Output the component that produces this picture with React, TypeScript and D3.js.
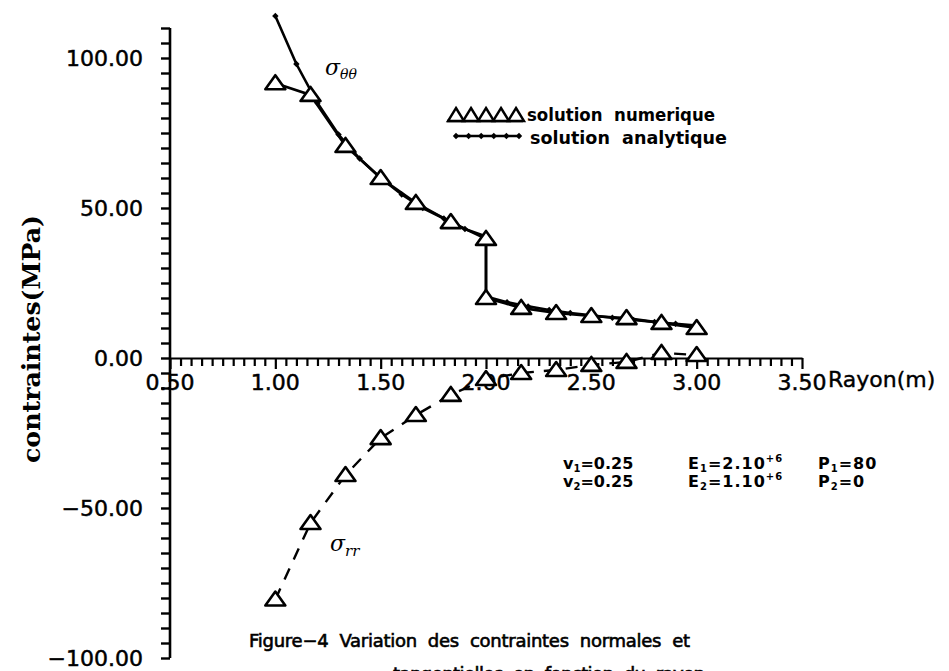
import React, { useEffect, useRef } from 'react';
import * as d3 from 'd3';

// sigma theta-theta, numerical solution (triangles), interface at r = 2.0
const rTheta = [1.0, 1.167, 1.333, 1.5, 1.667, 1.833, 2.0, 2.0, 2.167, 2.333, 2.5, 2.667, 2.833, 3.0];
const thetaNum = [91.6, 87.7, 70.7, 60.0, 51.7, 45.3, 39.7, 20.0, 16.7, 15.0, 14.0, 13.3, 11.7, 10.0];

// sigma theta-theta, analytical solution
const rAna = [1.0, 1.1, 1.2, 1.3, 1.4, 1.5, 1.6, 1.7, 1.8, 1.9, 2.0, 2.0, 2.1, 2.2, 2.3, 2.4, 2.5, 2.6, 2.7, 2.8, 2.9, 3.0];
const thetaAna = [114, 98, 85, 74.5, 66.5, 60, 54.5, 50, 46.5, 43, 40.5, 20.5, 18.6, 17.2, 16.0, 15.0, 14.2, 13.4, 12.7, 12.0, 11.4, 10.8];

// sigma r-r, numerical solution
const rRadial = [1.0, 1.167, 1.333, 1.5, 1.667, 1.833, 2.0, 2.167, 2.333, 2.5, 2.667, 2.833, 3.0];
const radialNum = [-80.5, -55, -39, -26.7, -19, -12.3, -7, -5, -4, -2.3, -1.3, 1.7, 1.0];

const xTickValues = [0.5, 1.0, 1.5, 2.0, 2.5, 3.0, 3.5];
const xTickLabels = ['0.50', '1.00', '1.50', '2.00', '2.50', '3.00', '3.50'];
const yTickValues = [100, 50, 0, -50, -100];
const yTickLabels = ['100.00', '50.00', '0.00', '\u221250.00', '\u2212100.00'];

const legendLabels = ['solution  numerique', 'solution  analytique'];

const SANS = '"DejaVu Sans", sans-serif';

function drawChart(node) {
  const svg = d3.select(node);
  svg.selectAll('*').remove();

  const x = d3.scaleLinear().domain([0.5, 3.5]).range([170, 802]);
  const y = d3.scaleLinear().domain([0, 100]).range([358, 58]);

  svg.append('rect').attr('width', 949).attr('height', 671).attr('fill', 'white');

  // triangle marker and small diamond marker
  const tri = 'M0,-8L10,6L-10,6Z';
  const dia = 'M0,-3.2L3.2,0L0,3.2L-3.2,0Z';

  // ---- axes ----
  const yAxis = svg.append('g')
    .attr('transform', `translate(${x(0.5)},0)`)
    .call(d3.axisLeft(y).tickValues(d3.range(-100, 111, 5)).tickSize(9).tickSizeOuter(0).tickFormat(() => ''));
  yAxis.select('.domain').remove();
  yAxis.selectAll('line').attr('stroke', 'black').attr('stroke-width', 2.4);
  yAxis.append('line')
    .attr('x1', 0).attr('x2', 0)
    .attr('y1', y(110)).attr('y2', y(-100))
    .attr('stroke', 'black').attr('stroke-width', 2.6);

  const xAxis = svg.append('g')
    .attr('transform', `translate(0,${y(0)})`)
    .call(d3.axisBottom(x).tickValues(d3.range(0, 61).map(i => 0.5 + i * 0.05)).tickSize(8).tickSizeOuter(0).tickFormat(() => ''));
  xAxis.selectAll('path, line').attr('stroke', 'black').attr('stroke-width', 2.2);
  xAxis.selectAll('.tick line')
    .filter((d) => Math.abs(d * 2 - Math.round(d * 2)) < 1e-6)
    .attr('y2', 11);

  svg.append('g').selectAll('text')
    .data(yTickValues)
    .enter().append('text')
    .attr('x', 143)
    .attr('y', d => y(d))
    .attr('dy', '0.36em')
    .attr('text-anchor', 'end')
    .style('font-family', SANS)
    .style('font-size', '22px')
    .attr('stroke', 'black').attr('stroke-width', 0.5)
    .text((d, i) => yTickLabels[i]);

  svg.append('g').selectAll('text')
    .data(xTickValues)
    .enter().append('text')
    .attr('x', d => x(d))
    .attr('y', 390)
    .attr('text-anchor', 'middle')
    .style('font-family', SANS)
    .style('font-size', '22px')
    .attr('stroke', 'black').attr('stroke-width', 0.5)
    .text((d, i) => xTickLabels[i]);

  svg.append('text')
    .attr('x', 828).attr('y', 387)
    .style('font-family', SANS)
    .style('font-size', '22px')
    .attr('stroke', 'black').attr('stroke-width', 0.4)
    .text('Rayon(m)');

  svg.append('text')
    .attr('transform', 'translate(40,339) rotate(-90)')
    .attr('text-anchor', 'middle')
    .attr('textLength', 248)
    .attr('lengthAdjust', 'spacingAndGlyphs')
    .style('font-family', '"DejaVu Serif", serif')
    .style('font-weight', 'bold')
    .style('font-size', '25px')
    .text('contraintes(MPa)');

  // ---- curves ----
  const line = d3.line().x(d => x(d[0])).y(d => y(d[1]));

  const anaPts = rAna.map((r, i) => [r, thetaAna[i]]);
  const numPts = rTheta.map((r, i) => [r, thetaNum[i]]);
  const rrPts = rRadial.map((r, i) => [r, radialNum[i]]);

  svg.append('path').datum(anaPts)
    .attr('d', line).attr('fill', 'none').attr('stroke', 'black').attr('stroke-width', 2.6);
  svg.append('path').datum(numPts)
    .attr('d', line).attr('fill', 'none').attr('stroke', 'black').attr('stroke-width', 2.6);
  svg.append('path').datum(rrPts)
    .attr('d', line).attr('fill', 'none').attr('stroke', 'black').attr('stroke-width', 2.4)
    .attr('stroke-dasharray', '12,10');

  svg.append('g').selectAll('path')
    .data(anaPts)
    .enter().append('path')
    .attr('d', dia)
    .attr('transform', d => `translate(${x(d[0])},${y(d[1])})`)
    .attr('fill', 'black');

  svg.append('g').selectAll('path')
    .data(numPts.concat(rrPts))
    .enter().append('path')
    .attr('d', tri)
    .attr('transform', d => `translate(${x(d[0])},${y(d[1])})`)
    .attr('fill', 'white').attr('stroke', 'black').attr('stroke-width', 2.6)
    .attr('stroke-linejoin', 'round');

  // ---- curve names ----
  const sTheta = svg.append('text').attr('x', 325).attr('y', 75)
    .style('font-family', '"DejaVu Serif", serif').style('font-style', 'italic').style('font-size', '22px');
  sTheta.append('tspan').text('\u03c3');
  sTheta.append('tspan').attr('dy', 4).style('font-size', '14px').text('\u03b8\u03b8');

  const sRadial = svg.append('text').attr('x', 330).attr('y', 551)
    .style('font-family', '"DejaVu Serif", serif').style('font-style', 'italic').style('font-size', '22px');
  sRadial.append('tspan').text('\u03c3');
  sRadial.append('tspan').attr('dy', 5).style('font-size', '15px').text('rr');

  // ---- legend ----
  const lg = svg.append('g');
  lg.append('line').attr('x1', 447).attr('x2', 523).attr('y1', 121).attr('y2', 121)
    .attr('stroke', 'black').attr('stroke-width', 2.4);
  lg.selectAll('path.t')
    .data(d3.range(5))
    .enter().append('path')
    .attr('d', 'M0,-7L8,6L-8,6Z')
    .attr('transform', i => `translate(${456 + i * 15},115)`)
    .attr('fill', 'white').attr('stroke', 'black').attr('stroke-width', 2.4);
  lg.append('line').attr('x1', 455).attr('x2', 520).attr('y1', 136).attr('y2', 136)
    .attr('stroke', 'black').attr('stroke-width', 2.4);
  lg.selectAll('path.d')
    .data(d3.range(6))
    .enter().append('path')
    .attr('d', dia)
    .attr('transform', i => `translate(${456 + i * 12.6},136)`)
    .attr('fill', 'black');
  lg.selectAll('text')
    .data(legendLabels)
    .enter().append('text')
    .attr('x', (d, i) => (i === 0 ? 527 : 530))
    .attr('y', (d, i) => (i === 0 ? 121 : 144))
    .attr('textLength', (d, i) => (i === 0 ? 188 : 197))
    .attr('lengthAdjust', 'spacingAndGlyphs')
    .style('white-space', 'pre')
    .style('font-family', SANS)
    .style('font-weight', 'bold')
    .style('font-size', '18px')
    .text(d => d);

  // ---- parameters ----
  const params = [
    { t: 'v', s: '1', v: '=0.25', x: 563, y: 469 },
    { t: 'v', s: '2', v: '=0.25', x: 563, y: 487 },
  ];
  params.forEach(p => {
    const t = svg.append('text').attr('x', p.x).attr('y', p.y)
      .style('font-family', SANS).style('font-weight', 'bold').style('font-size', '16px');
    t.append('tspan').text(p.t);
    t.append('tspan').attr('dy', 3).style('font-size', '10px').text(p.s);
    t.append('tspan').attr('dy', -3).text(p.v);
  });
  const mods = [
    { s: '1', v: '=2.10', e: '+6', p: '1', pv: '=80', y: 469 },
    { s: '2', v: '=1.10', e: '+6', p: '2', pv: '=0', y: 487 },
  ];
  mods.forEach(m => {
    const t = svg.append('text').attr('x', 688).attr('y', m.y)
      .style('font-family', SANS).style('font-weight', 'bold').style('font-size', '16px')
      .style('letter-spacing', '1px');
    t.append('tspan').text('E');
    t.append('tspan').attr('dy', 3).style('font-size', '10px').text(m.s);
    t.append('tspan').attr('dy', -3).text(m.v);
    t.append('tspan').attr('dy', -7).style('font-size', '10px').text(m.e);
    const p = svg.append('text').attr('x', 818).attr('y', m.y)
      .style('font-family', SANS).style('font-weight', 'bold').style('font-size', '16px')
      .style('letter-spacing', '1px');
    p.append('tspan').text('P');
    p.append('tspan').attr('dy', 3).style('font-size', '10px').text(m.p);
    p.append('tspan').attr('dy', -3).text(m.pv);
  });

  // ---- caption ----
  svg.append('text')
    .attr('x', 249).attr('y', 647)
    .attr('textLength', 441)
    .attr('lengthAdjust', 'spacing')
    .style('white-space', 'pre')
    .style('font-family', SANS).style('font-size', '18px')
    .attr('stroke', 'black').attr('stroke-width', 0.6)
    .text('Figure\u22124  Variation  des  contraintes  normales  et');
  svg.append('text')
    .attr('x', 393).attr('y', 680)
    .attr('textLength', 312)
    .attr('lengthAdjust', 'spacing')
    .style('white-space', 'pre')
    .style('font-family', SANS).style('font-size', '18px')
    .attr('stroke', 'black').attr('stroke-width', 0.6)
    .text('tangentielles  en  fonction  du  rayon');

  return svg.node();
}

const App = () => {
  const ref = useRef(null);
  useEffect(() => {
    drawChart(ref.current);
  }, []);

  return (
    <svg ref={ref} width={949} height={671}
      style={{ position: 'absolute', left: 0, top: 0, display: 'block' }} />
  );
};

export default App;
